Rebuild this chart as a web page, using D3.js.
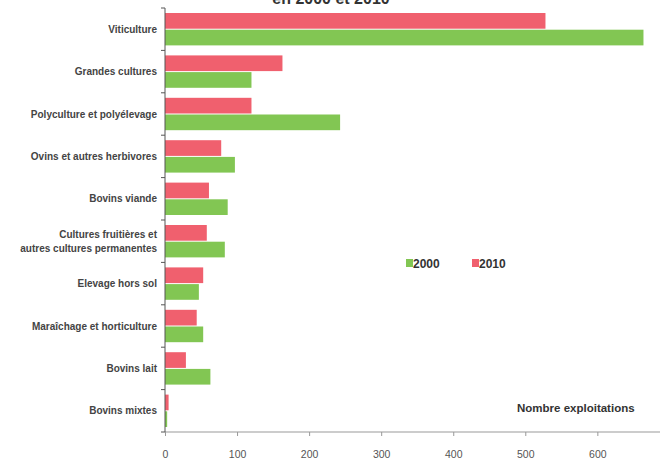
<!DOCTYPE html>
<html><head><meta charset="utf-8">
<script src="https://cdn.jsdelivr.net/npm/d3@7"></script>
<style>body{margin:0;background:#fff;} svg{display:block;font-family:Arial,"Liberation Sans",sans-serif;}</style>
</head><body>
<svg id="c" width="664" height="463"></svg>
<script>
const categories = ["Viticulture","Grandes cultures","Polyculture et polyélevage","Ovins et autres herbivores","Bovins viande","Cultures fruitières et\nautres cultures permanentes","Elevage hors sol","Maraîchage et horticulture","Bovins lait","Bovins mixtes"];
const values2010 = [528,163,120,78,61,58,53,44,29,5];
const values2000 = [664,120,243,97,87,83,47,53,63,3];
const seriesNames = ["2000","2010"];
const xTicks = [0,100,200,300,400,500,600];
const titleText = "en 2000 et 2010";
const axisTitle = "Nombre exploitations";

const svg = d3.select("#c");
const col2010 = "#f0606e", col2000 = "#82c653";
const x = d3.scaleLinear().domain([0,680]).range([165,655]);
const y = d3.scaleBand().domain(categories).range([8,432]).padding(0);
const inner = d3.scaleBand().domain(["2010","2000"]).range([0, y.bandwidth()]).paddingInner(0.06).paddingOuter(0.3);

svg.append("text").attr("x",331).attr("y",4).attr("text-anchor","middle")
  .attr("font-size",16).attr("font-weight","bold").attr("fill","#333").text(titleText);

const g = svg.append("g");
categories.forEach((c,i)=>{
  g.append("rect").attr("x",x(0)).attr("y",y(c)+inner("2010")).attr("width",x(values2010[i])-x(0)).attr("height",inner.bandwidth()).attr("fill",col2010);
  g.append("rect").attr("x",x(0)).attr("y",y(c)+inner("2000")).attr("width",x(values2000[i])-x(0)).attr("height",inner.bandwidth()).attr("fill",col2000);
});

// x axis
const xa = svg.append("g").attr("transform","translate(0,432)")
  .call(d3.axisBottom(x).tickValues(xTicks).tickSize(4).tickPadding(15).tickSizeOuter(0));
xa.select(".domain").attr("stroke","#999").attr("d","M165,0H660");
xa.selectAll(".tick line").attr("stroke","#999");
xa.selectAll(".tick text").attr("font-size",10.5).attr("fill","#555").attr("font-family","Arial, sans-serif");

// y axis
const ya = svg.append("g").attr("transform","translate(165,0)");
ya.append("line").attr("x1",0).attr("x2",0).attr("y1",8).attr("y2",432).attr("stroke","#555");
const bounds = categories.map(c=>y(c)).concat([432]);
bounds.forEach(b=>ya.append("line").attr("x1",-4).attr("x2",0).attr("y1",b).attr("y2",b).attr("stroke","#555"));
categories.forEach(c=>{
  const lines = c.split("\n");
  const cy = y(c)+y.bandwidth()/2;
  const t = ya.append("text").attr("text-anchor","end").attr("font-size",10).attr("fill","#444").attr("font-weight","bold");
  lines.forEach((l,k)=>{
    t.append("tspan").attr("x",-8).attr("y",cy + (k-(lines.length-1)/2)*14 + 3.5).text(l);
  });
});

// legend
const leg = svg.append("g").attr("font-size",12).attr("font-weight","bold").attr("fill","#333");
[["2000",col2000,406],["2010",col2010,472]].forEach(([n,cc,lx])=>{
  leg.append("rect").attr("x",lx).attr("y",259).attr("width",7).attr("height",8).attr("fill",cc);
  leg.append("text").attr("x",lx+7).attr("y",268).text(n);
});

svg.append("text").attr("x",517).attr("y",412).attr("font-size",11.5).attr("font-weight","bold").attr("fill","#333").text(axisTitle);
</script>
</body></html>
